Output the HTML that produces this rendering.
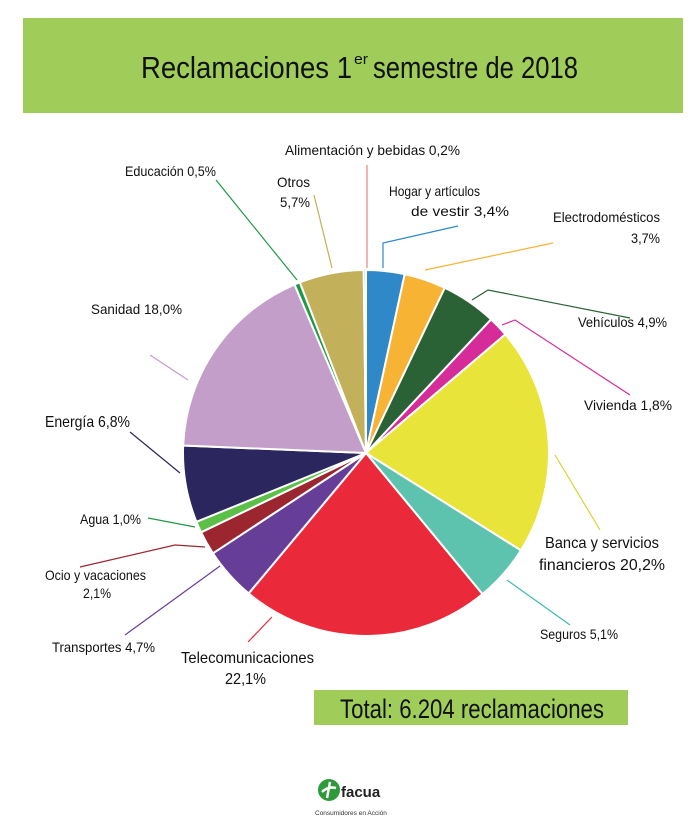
<!DOCTYPE html>
<html><head><meta charset="utf-8"><style>
html,body{margin:0;padding:0;background:#fff;width:697px;height:822px;overflow:hidden}
svg{display:block}
text{font-family:"Liberation Sans Narrow","Liberation Sans",sans-serif;fill:#111}
</style></head><body>
<svg id="s" width="697" height="822" viewBox="0 0 697 822" xmlns="http://www.w3.org/2000/svg">
<rect x="23" y="18" width="660" height="95" fill="#a0cd5a"/>
<text x="141" y="78" font-size="31" textLength="211" lengthAdjust="spacingAndGlyphs">Reclamaciones 1</text>
<text x="354" y="64" font-size="15" textLength="14" lengthAdjust="spacingAndGlyphs">er</text>
<text x="373" y="78" font-size="31" textLength="205" lengthAdjust="spacingAndGlyphs">semestre de 2018</text>
<g id="pie"></g>
<g fill="none" stroke-width="1.2">
<polyline points="367,165 367,268" stroke="#f08080"/>
<polyline points="458,226 383,243 383,268" stroke="#2f89c8"/>
<polyline points="553,243 425,270" stroke="#f7b334"/>
<polyline points="630,318 488,290 472,300" stroke="#2a6135"/>
<polyline points="630,395 515,320 502,325" stroke="#d62c9a"/>
<polyline points="555,455 600,530" stroke="#d8d430"/>
<polyline points="507,580 570,625" stroke="#3cbdb0"/>
<polyline points="272,617 248,642" stroke="#ea2a3a"/>
<polyline points="220,566 125,635" stroke="#673e97"/>
<polyline points="205,547 175,545 80,567" stroke="#9c2630"/>
<polyline points="148,518 195,527" stroke="#1e9a47"/>
<polyline points="130,432 180,473" stroke="#2b275e"/>
<polyline points="150,355 188,380" stroke="#c39ec8"/>
<polyline points="216,180 297,280" stroke="#1e9a47"/>
<polyline points="314,195 332,268" stroke="#c3b05a"/>
</g>
<g font-size="14">
<text x="285" y="155" textLength="175" lengthAdjust="spacingAndGlyphs">Alimentación y bebidas   0,2%</text>
<text x="389" y="196" textLength="91" lengthAdjust="spacingAndGlyphs">Hogar y artículos</text>
<text x="411" y="216" textLength="98" lengthAdjust="spacingAndGlyphs">de vestir  3,4%</text>
<text x="553" y="222" textLength="107" lengthAdjust="spacingAndGlyphs">Electrodomésticos</text>
<text x="631" y="243" textLength="29" lengthAdjust="spacingAndGlyphs">3,7%</text>
<text x="277" y="187" textLength="33" lengthAdjust="spacingAndGlyphs">Otros</text>
<text x="280" y="207" textLength="30" lengthAdjust="spacingAndGlyphs">5,7%</text>
<text x="125" y="176" textLength="91" lengthAdjust="spacingAndGlyphs">Educación 0,5%</text>
<text x="91" y="314" textLength="91" lengthAdjust="spacingAndGlyphs">Sanidad 18,0%</text>
<text x="45" y="427" font-size="16" textLength="85" lengthAdjust="spacingAndGlyphs">Energía 6,8%</text>
<text x="80" y="524" textLength="61" lengthAdjust="spacingAndGlyphs">Agua 1,0%</text>
<text x="45" y="580" textLength="101" lengthAdjust="spacingAndGlyphs">Ocio y vacaciones</text>
<text x="83" y="598" textLength="28" lengthAdjust="spacingAndGlyphs">2,1%</text>
<text x="52" y="652" textLength="103" lengthAdjust="spacingAndGlyphs">Transportes 4,7%</text>
<text x="181" y="663" font-size="16" textLength="133" lengthAdjust="spacingAndGlyphs">Telecomunicaciones</text>
<text x="225" y="684" font-size="16" textLength="41" lengthAdjust="spacingAndGlyphs">22,1%</text>
<text x="540" y="639" textLength="78" lengthAdjust="spacingAndGlyphs">Seguros 5,1%</text>
<text x="545" y="548" font-size="16" textLength="114" lengthAdjust="spacingAndGlyphs">Banca y servicios</text>
<text x="539" y="570" font-size="16" textLength="126" lengthAdjust="spacingAndGlyphs">financieros 20,2%</text>
<text x="584" y="410" textLength="88" lengthAdjust="spacingAndGlyphs">Vivienda 1,8%</text>
<text x="578" y="327" textLength="89" lengthAdjust="spacingAndGlyphs">Vehículos 4,9%</text>
</g>
<rect x="314" y="690" width="314" height="35" fill="#a0cd5a"/>
<text x="340" y="718" font-size="27" textLength="264" lengthAdjust="spacingAndGlyphs">Total: 6.204 reclamaciones</text>
<circle cx="329" cy="790" r="11" fill="#2e9a3a"/>
<path d="M322 792 q6 -6 14 -4 M330 782 l-3 16" stroke="#fff" stroke-width="2.5" fill="none"/>
<text x="341" y="797" font-size="15" font-weight="bold" style="fill:#222">facua</text>
<text x="315" y="815" font-size="6.5" style="fill:#333">Consumidores en Acción</text>
</svg>
<script>
var d=[[3.4,"#2f89c8"],[3.7,"#f7b334"],[4.9,"#2a6135"],[1.8,"#d62c9a"],[20.2,"#e8e43a"],[5.1,"#5ec3ae"],[22.1,"#ea2a3a"],[4.7,"#673e97"],[2.1,"#9c2630"],[1.0,"#5cbf47"],[6.8,"#2b275e"],[18.0,"#c39ec8"],[0.5,"#1e9a47"],[5.7,"#c3b05a"],[0.2,"#f08080"]];
var tot=0;d.forEach(function(x){tot+=x[0]});
var cx=366,cy=453,r=183,a=0,h="";
d.forEach(function(x){var b=a+x[0]/tot*2*Math.PI;
var x1=cx+r*Math.sin(a),y1=cy-r*Math.cos(a),x2=cx+r*Math.sin(b),y2=cy-r*Math.cos(b);
h+='<path d="M'+cx+' '+cy+' L'+x1.toFixed(2)+' '+y1.toFixed(2)+' A'+r+' '+r+' 0 '+((b-a)>Math.PI?1:0)+' 1 '+x2.toFixed(2)+' '+y2.toFixed(2)+' Z" fill="'+x[1]+'" stroke="#fff" stroke-width="2"/>';a=b;});
document.getElementById("pie").innerHTML=h;
</script>
</body></html>
